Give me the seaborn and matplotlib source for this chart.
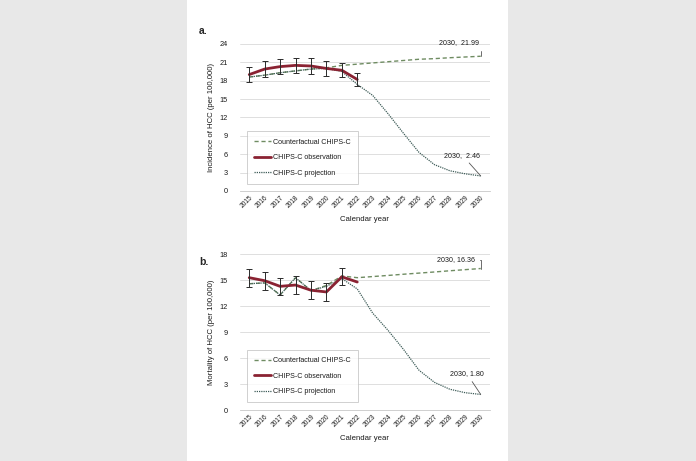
import numpy as np
import seaborn as sns
from matplotlib import pyplot as plt
from matplotlib.patches import Rectangle

# calendar years
years = list(range(2015, 2031))
obs_years = list(range(2015, 2023))
tick_labels = [str(y) for y in years]

# a. incidence of HCC (per 100,000)
inc_obs = [19.0, 19.9, 20.3, 20.5, 20.4, 20.0, 19.7, 18.2]
inc_err = [1.2, 1.25, 1.25, 1.25, 1.3, 1.2, 1.15, 1.0]
inc_proj = [18.6, 18.9, 19.3, 19.6, 19.9, 20.0, 19.5, 17.4, 15.6, 12.6, 9.4, 6.3, 4.3, 3.3, 2.8, 2.46]
inc_cf = [18.6, 18.9, 19.3, 19.6, 19.9, 20.1, 20.5, 20.7, 20.9, 21.1, 21.3, 21.5, 21.6, 21.75, 21.87, 21.99]

# b. mortality of HCC (per 100,000)
mort_obs = [15.3, 14.95, 14.3, 14.45, 13.85, 13.65, 15.4, 14.8]
mort_err = [1.05, 1.05, 1.0, 1.0, 1.05, 1.0, 1.0]  # no bar for 2022
mort_proj = [14.6, 14.7, 13.3, 15.3, 13.8, 14.3, 15.2, 14.0, 11.2, 9.2, 7.0, 4.6, 3.2, 2.4, 2.0, 1.80]
mort_cf = [14.6, 14.7, 13.3, 15.3, 13.8, 14.4, 15.5, 15.3, 15.43, 15.56, 15.7, 15.83, 15.96, 16.1, 16.23, 16.36]

C_OBS = '#8a2232'
C_CF = '#6f8c62'
C_PROJ = '#3f5d59'
TXT = '#1a1a1a'
FONT = ['Liberation Sans', 'DejaVu Sans']


def draw_panel(ax, obs, err, proj, cf, ymax, ylabel, notes):
    sns.lineplot(x=years, y=cf, ax=ax, color=C_CF, lw=1.0, linestyle=(0, (3, 2)),
                 label='Counterfactual CHIPS-C', zorder=3)
    sns.lineplot(x=obs_years, y=obs, ax=ax, color=C_OBS, lw=2.0,
                 label='CHIPS-C observation', zorder=4)
    sns.lineplot(x=years, y=proj, ax=ax, color=C_PROJ, lw=0.9, linestyle=(0, (1, 0.8)),
                 label='CHIPS-C projection', zorder=3)
    ax.errorbar(obs_years[:len(err)], obs[:len(err)], yerr=err, fmt='none',
                ecolor='#2a2a2a', elinewidth=0.7, capsize=2, capthick=0.7, zorder=5)

    ax.set_xlim(2014.4, 2030.6)
    ax.set_ylim(0, ymax)
    ax.set_yticks(np.arange(0, ymax + 1, 3))
    ax.set_xticks(years, tick_labels)
    ax.tick_params(axis='y', length=0, pad=9, labelsize=5.3, labelcolor=TXT)
    ax.tick_params(axis='x', length=0, pad=2, labelsize=4.8, labelcolor=TXT)
    for t in ax.get_xticklabels():
        t.set_rotation(45)
        t.set_ha('right')
        t.set_rotation_mode('anchor')
    ax.grid(axis='y', color='#d9d9d9', lw=0.6)
    ax.grid(axis='x', visible=False)
    for s in ['top', 'right', 'left']:
        ax.spines[s].set_visible(False)
    ax.spines['bottom'].set_color('#c8c8c8')
    ax.spines['bottom'].set_linewidth(0.6)
    ax.set_ylabel(ylabel, fontsize=5.6, color=TXT, labelpad=3)
    ax.set_xlabel('Calendar year', fontsize=5.6, color=TXT, labelpad=5)

    leg = ax.legend(loc='lower left', bbox_to_anchor=(0.028, 0.05), fontsize=5.1,
                    frameon=True, fancybox=False, edgecolor='#bbbbbb',
                    handlelength=2.4, handletextpad=0.3, labelspacing=1.2,
                    borderpad=1.0, borderaxespad=0)
    leg.get_frame().set_linewidth(0.6)
    for t in leg.get_texts():
        t.set_color(TXT)

    for text, xy, xytext, conn in notes:
        ax.annotate(text, xy=xy, xytext=xytext, fontsize=5.1, ha='center', va='center',
                    color=TXT, annotation_clip=False,
                    arrowprops=dict(arrowstyle='-', color='#555555', lw=0.6,
                                    shrinkA=1, shrinkB=0, connectionstyle=conn))


def main():
    sns.set_theme(style='white')
    plt.rcParams['font.family'] = FONT

    fig = plt.figure(figsize=(6.96, 4.61), dpi=100, facecolor='#e8e8e8')
    fig.patches.append(Rectangle((0.2687, 0), 0.4612, 1, transform=fig.transFigure,
                                 facecolor='white', edgecolor='none', zorder=-10))

    ax_a = fig.add_axes([0.3448, 0.5857, 0.3592, 0.319])
    ax_b = fig.add_axes([0.3448, 0.1106, 0.3592, 0.3377])
    ax_a.set_facecolor('none')
    ax_b.set_facecolor('none')

    draw_panel(ax_a, inc_obs, inc_err, inc_proj, inc_cf, 24,
               'Incidence of HCC (per 100,000)',
               [('2030,  21.99', (2030, inc_cf[-1]), (2028.6, 24.2), 'angle,angleA=0,angleB=90,rad=0'),
                ('2030,  2.46', (2030, inc_proj[-1]), (2028.8, 5.85), 'arc3')])
    draw_panel(ax_b, mort_obs, mort_err, mort_proj, mort_cf, 18,
               'Mortality of HCC (per 100,000)',
               [('2030, 16.36', (2030, mort_cf[-1]), (2028.4, 17.4), 'angle,angleA=0,angleB=90,rad=0'),
                ('2030, 1.80', (2030, mort_proj[-1]), (2029.1, 4.2), 'arc3')])

    fig.text(0.286, 0.933, 'a.', fontsize=7.5, fontweight='bold', ha='left', va='center')
    fig.text(0.286, 0.432, 'b.', fontsize=7.5, fontweight='bold', ha='left', va='center')

    fig.savefig('out.png', dpi=100, facecolor=fig.get_facecolor())


if __name__ == "__main__":
    main()
